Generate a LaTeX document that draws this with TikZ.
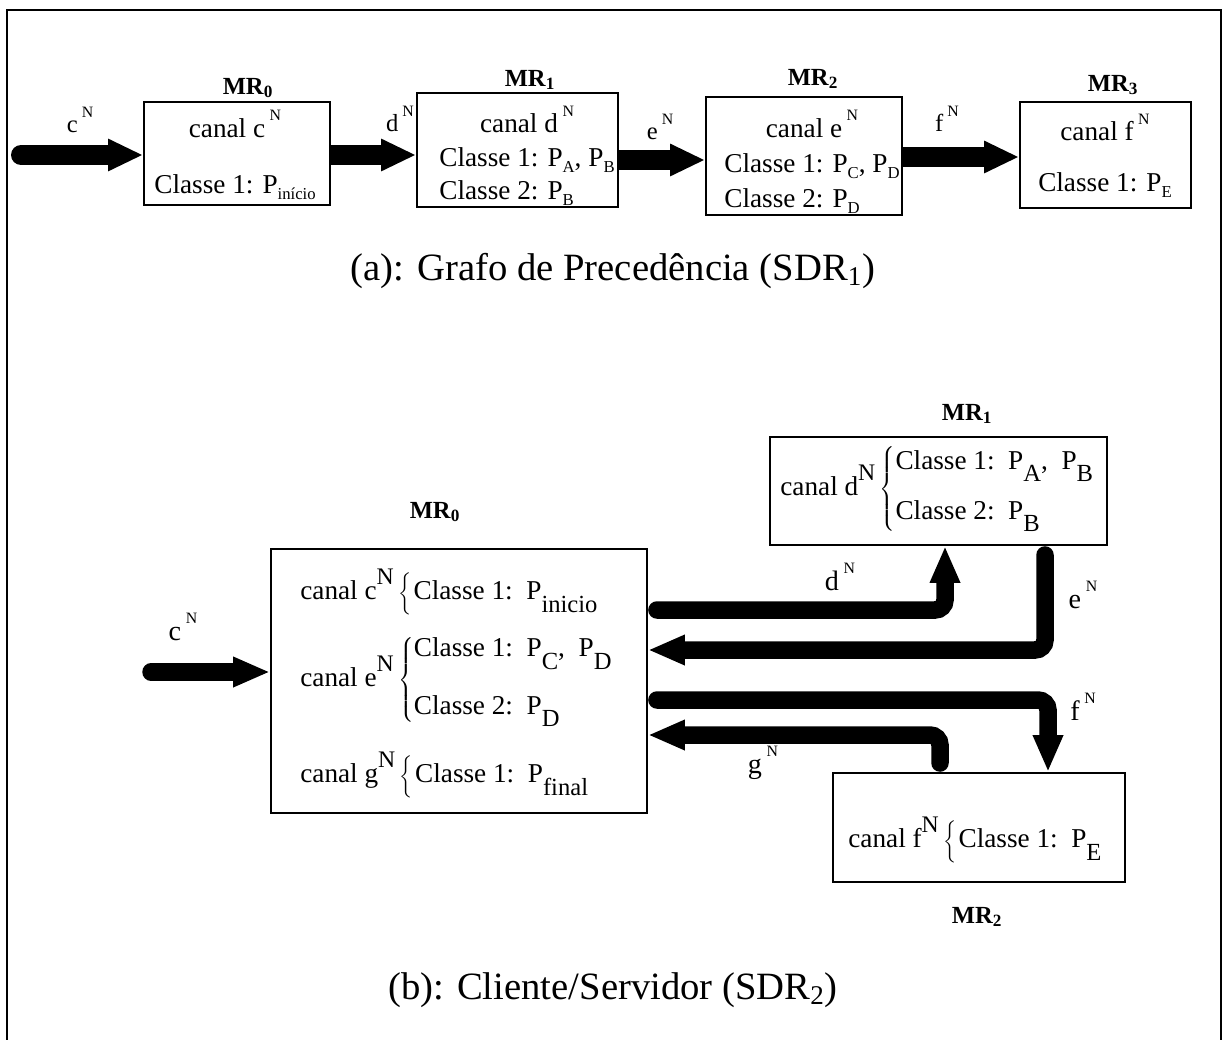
\documentclass[tikz,border=0pt]{standalone}
\usepackage{fontspec}
\setmainfont{Liberation Serif}
\usetikzlibrary{arrows.meta}

\newcommand{\topsup}[1]{\,\raisebox{0.6em}{\fontsize{9}{9}\selectfont #1}}
\newcommand{\topsub}[1]{\raisebox{-0.22em}{\fontsize{9.5}{9.5}\selectfont #1}}
\newcommand{\botsup}[1]{\raisebox{0.55em}{\fontsize{13.5}{13.5}\selectfont #1}}
\newcommand{\botsub}[1]{\raisebox{-0.45em}{\fontsize{14}{14}\selectfont #1}}
\newcommand{\lbrc}{\,$\left\{\rule[-0.5em]{0pt}{1.45em}\right.$}

\begin{document}
\begin{tikzpicture}[x=0.02cm, y=-0.02cm,
  boxT/.style={draw, rectangle, line width=1.1pt, inner sep=0pt},
  txtT/.style={inner sep=0pt, font=\fontsize{15.5}{19}\selectfont},
  txtB/.style={inner sep=0pt, anchor=west, font=\fontsize{15.5}{19}\selectfont},
  mrlabel/.style={font=\fontsize{14}{16}\selectfont\bfseries},
  clabel/.style={font=\fontsize{14}{16}\selectfont},
  clabelB/.style={font=\fontsize{16}{18}\selectfont},
  caption/.style={font=\fontsize{22}{26}\selectfont},
  arrT/.style={line width=0.4cm, -{Triangle[length=0.7cm,width=0.6cm]}},
  arrB/.style={line width=0.35cm, line cap=round, rounded corners=0.2cm, -{Triangle[length=0.74cm,width=0.56cm]}}
]
\useasboundingbox (0,0) rectangle (1226,1040);
\draw[line width=1.6pt] (7,1040) -- (7,10) -- (1221,10) -- (1221,1040);

% (a)
\node[boxT, minimum width=3.72cm, minimum height=2.06cm] (t0) at (237,153.5) {};
\node[boxT, minimum width=4.02cm, minimum height=2.28cm] (t1) at (517.5,150) {};
\node[boxT, minimum width=3.92cm, minimum height=2.36cm] (t2) at (804,156) {};
\node[boxT, minimum width=3.42cm, minimum height=2.12cm] (t3) at (1105.5,155) {};

\node[txtT] (x0) at (235,157)
  {\begin{tabular}{@{}c@{}}canal c\topsup{N}\\[13pt] Classe 1: P\topsub{início}\end{tabular}};
\node[txtT] (x1) at (527,158)
  {\begin{tabular}{@{}l@{}}\multicolumn{1}{@{}c@{}}{canal d\topsup{N}}\\ Classe 1: P\topsub{A}, P\topsub{B}\\ Classe 2: P\topsub{B}\end{tabular}};
\node[txtT] (x2) at (812,164)
  {\begin{tabular}{@{}l@{}}\multicolumn{1}{@{}c@{}}{canal e\topsup{N}}\\[1pt] Classe 1: P\topsub{C}, P\topsub{D}\\[1pt] Classe 2: P\topsub{D}\end{tabular}};
\node[txtT] (x3) at (1105,158)
  {\begin{tabular}{@{}c@{}}canal f\topsup{N}\\[10pt] Classe 1: P\topsub{E}\end{tabular}};

\node[mrlabel] (lt0) at (248,88) {MR\textsubscript{0}};
\node[mrlabel] (lt1) at (530,80) {MR\textsubscript{1}};
\node[mrlabel] (lt2) at (813,79) {MR\textsubscript{2}};
\node[mrlabel] (lt3) at (1113,85) {MR\textsubscript{3}};

\coordinate (cin) at (21,155);
\coordinate (yd) at (0,155);
\coordinate (ye) at (0,160);
\coordinate (yf) at (0,157);
\draw[arrT, line cap=round] (cin) -- (t0.west |- cin);
\draw[arrT] (t0.east |- yd) -- (t1.west |- yd);
\draw[arrT] (t1.east |- ye) -- (t2.west |- ye);
\draw[arrT] (t2.east |- yf) -- (t3.west |- yf);

\node[clabel] (lc) at (80,120) {c\topsup{N}};
\node[clabel] (ld) at (400,119) {d\topsup{N}};
\node[clabel] (le) at (660,127) {e\topsup{N}};
\node[clabel] (lf) at (947,119) {f\topsup{N}};

\node[caption] (capa) at (613,271) {(a): Grafo de Precedência (SDR\textsubscript{1})};

% (b)
\node[boxT, minimum width=7.52cm, minimum height=5.28cm] (m0) at (459,681) {};
\node[boxT, minimum width=6.74cm, minimum height=2.16cm] (m1) at (938.5,491) {};
\node[boxT, minimum width=5.84cm, minimum height=2.18cm] (m2) at (979,827.5) {};

\node[txtB] (r0c) at (300,592) {canal c\botsup{N}\lbrc Classe 1:\ \ P\botsub{inicio}};
\node[txtB] (r0e) at (300,680) {canal e\botsup{N}\,$\left\{\begin{tabular}{@{}l@{}}Classe 1:\ \ P\botsub{C}, \ P\botsub{D}\\[13.5pt]Classe 2:\ \ P\botsub{D}\end{tabular}\right.$};
\node[txtB] (r0g) at (300,775) {canal g\botsup{N}\lbrc Classe 1:\ \ P\botsub{final}};
\node[txtB] (r1d) at (780,489) {canal d\botsup{N}\,$\left\{\begin{tabular}{@{}l@{}}Classe 1:\ \ P\botsub{A}, \ P\botsub{B}\\[9.5pt]Classe 2:\ \ P\botsub{B}\end{tabular}\right.$};
\node[txtB] (r2f) at (848,840) {canal f\botsup{N}\lbrc Classe 1:\ \ P\botsub{E}};

\node[mrlabel] (lm0) at (435,512) {MR\textsubscript{0}};
\node[mrlabel] (lm1) at (967,414) {MR\textsubscript{1}};
\node[mrlabel] (lm2) at (977,917) {MR\textsubscript{2}};

\coordinate (cin2) at (151,672);
\coordinate (yd2) at (0,610);
\coordinate (ye2) at (0,650);
\coordinate (yf2) at (0,700);
\coordinate (yg2) at (0,735);
\coordinate (xd2) at (945,0);
\coordinate (xe2) at (1045,0);
\coordinate (xf2) at (1048,0);
\coordinate (xg2) at (940,0);
\draw[arrB] (cin2) -- (m0.west |- cin2);
\draw[arrB, shorten <=0.18cm] (m0.east |- yd2) -| (xd2 |- m1.south);
\draw[arrB, shorten <=0.18cm] (xe2 |- m1.south) |- (m0.east |- ye2);
\draw[arrB, shorten <=0.18cm] (m0.east |- yf2) -| (xf2 |- m2.north);
\draw[arrB, shorten <=0.18cm] (xg2 |- m2.north) |- (m0.east |- yg2);

\node[clabelB] (lc2) at (183,627) {c\topsup{N}};
\node[clabelB] (ld2) at (840,577) {d\topsup{N}};
\node[clabelB] (le2) at (1083,595) {e\topsup{N}};
\node[clabelB] (lf2) at (1083,707) {f\topsup{N}};
\node[clabelB] (lg2) at (763,763) {g\topsup{N}};

\node[caption] (capb) at (613,990) {(b): Cliente/Servidor (SDR\textsubscript{2})};

\end{tikzpicture}
\end{document}
